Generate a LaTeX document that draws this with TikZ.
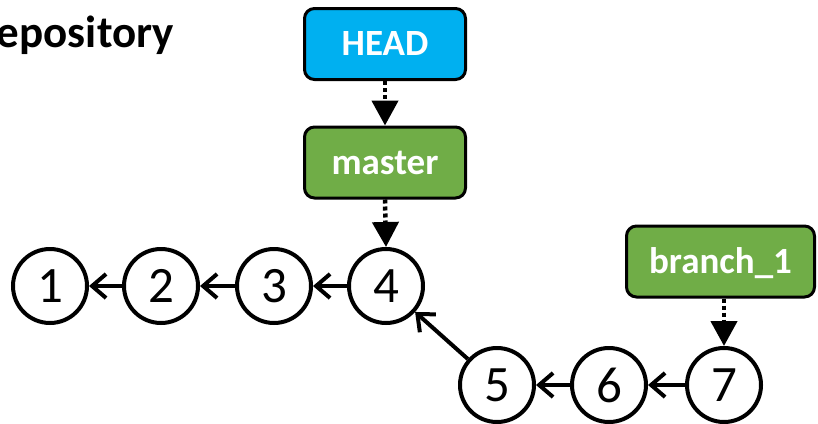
\documentclass[tikz,border=0pt]{standalone}
\usepackage{fontspec}
\setmainfont{Carlito}
\usetikzlibrary{arrows.meta}
\definecolor{headblue}{HTML}{00B0F0}
\definecolor{branchgreen}{HTML}{70AD47}
\tikzset{
  refbox/.style={draw=black, line width=3pt, rounded corners=10pt, text=white,
    font=\fontsize{37pt}{37pt}\selectfont\bfseries, minimum width=161pt, minimum height=71pt,
    inner sep=0pt, text height=23pt, text depth=0pt},
  commit/.style={draw=black, line width=4pt, circle, minimum size=74pt, inner sep=0pt,
    font=\fontsize{51pt}{51pt}\selectfont, fill=white},
  refarrow/.style={line width=4.5pt, dash pattern=on 4pt off 3pt, -{Triangle[length=25pt,width=26pt]}},
  parentarrow/.style={line width=4pt, -{Straight Barb[length=14pt,width=24pt]}}
}
\begin{document}
\begin{tikzpicture}[x=1pt,y=1pt]
\useasboundingbox (0,0) rectangle (818,-423);
\node[anchor=base east, inner sep=0pt, font=\fontsize{45pt}{45pt}\selectfont\bfseries] (title) at (174,-47) {Repository};
\node[refbox, fill=headblue] (head) at (385,-44) {HEAD};
\node[refbox, fill=branchgreen] (master) at (385,-162.5) {master};
\node[refbox, fill=branchgreen, minimum width=188pt] (branch) at (720.5,-261.5) {branch\_1};
\node[commit] (c1) at (50,-286) {1};
\node[commit] (c2) at (161,-286) {2};
\node[commit] (c3) at (274,-286) {3};
\node[commit] (c4) at (386,-286) {4};
\node[commit] (c5) at (497,-385) {5};
\node[commit] (c6) at (609,-385) {6};
\node[commit] (c7) at (724,-385) {7};
\draw[refarrow] (head.south) -- (master.north);
\draw[refarrow] (master.south) -- (c4.north);
\draw[refarrow] (branch.south -| c7) -- (c7.north);
\draw[parentarrow] (c2) -- (c1);
\draw[parentarrow] (c3) -- (c2);
\draw[parentarrow] (c4) -- (c3);
\draw[parentarrow] (c5) -- (c4);
\draw[parentarrow] (c6) -- (c5);
\draw[parentarrow] (c7) -- (c6);
\end{tikzpicture}
\end{document}
